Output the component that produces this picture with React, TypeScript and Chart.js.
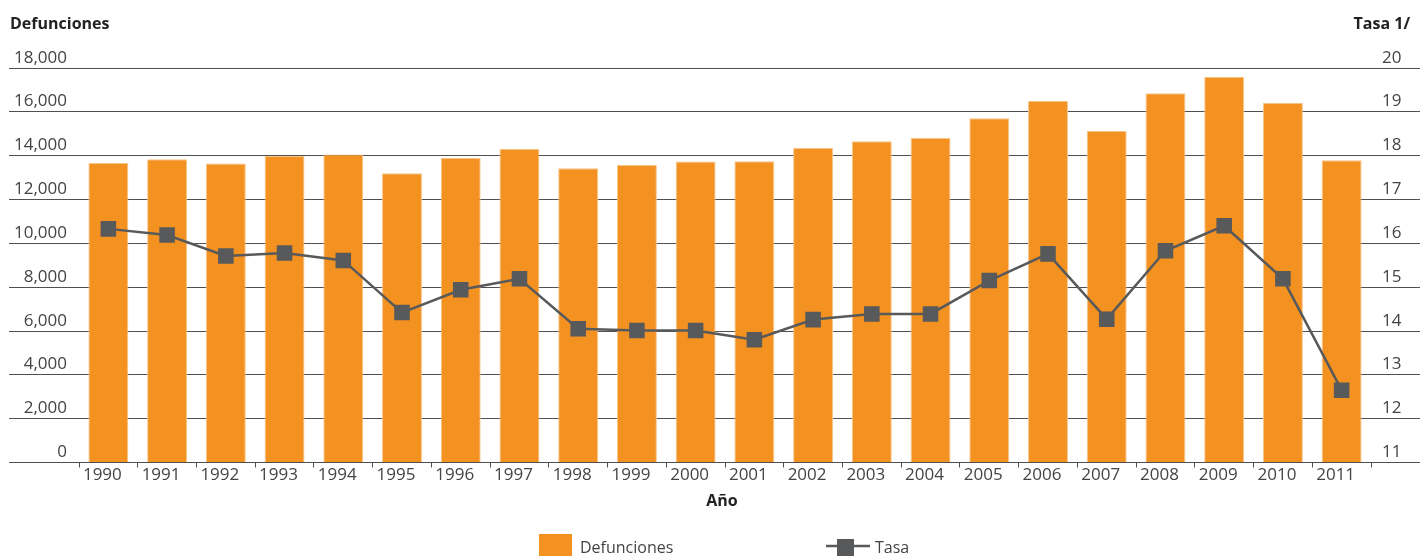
import React, { useEffect, useRef } from "react";
import { Chart, registerables } from "chart.js";

Chart.register(...registerables);

const years = ["1990", "1991", "1992", "1993", "1994", "1995", "1996", "1997", "1998", "1999", "2000", "2001", "2002", "2003", "2004", "2005", "2006", "2007", "2008", "2009", "2010", "2011"];
const defunciones = [13670, 13840, 13640, 13980, 14050, 13200, 13890, 14320, 13430, 13570, 13730, 13750, 14350, 14660, 14810, 15710, 16500, 15120, 16850, 17600, 16410, 13790];
const tasa = [16.33, 16.19, 15.71, 15.78, 15.61, 14.42, 14.94, 15.19, 14.05, 14.01, 14.01, 13.8, 14.26, 14.39, 14.39, 15.15, 15.76, 14.27, 15.83, 16.4, 15.19, 12.65];
const seriesNames = ["Defunciones", "Tasa"];
const leftAxisTitle = "Defunciones";
const rightAxisTitle = "Tasa 1/";
const xAxisTitle = "Año";
const leftAxisRange = { min: 0, max: 18000, step: 2000 };
const rightAxisRange = { min: 11, max: 20, step: 1 };

const FONT = "'Open Sans', 'Noto Sans', sans-serif";
const TEXT = "#444444";
const TITLE = "#222222";
const GRID = "#505050";
const ORANGE = "#F39220";
const ORANGE_EDGE = "#F8C48A";
const LINE = "#58595B";

const extraTextPlugin = {
  id: "extraText",
  afterDraw(chart: any) {
    const ctx = chart.ctx;
    const ca = chart.chartArea;
    const cx = (ca.left + ca.right) / 2 - 3;
    ctx.save();
    ctx.fillStyle = TITLE;
    ctx.font = `bold 16px ${FONT}`;
    ctx.textBaseline = "alphabetic";
    ctx.textAlign = "left";
    ctx.fillText(leftAxisTitle, 10, 29);
    ctx.textAlign = "right";
    ctx.fillText(rightAxisTitle, 1410, 29);
    ctx.textAlign = "center";
    ctx.fillText(xAxisTitle, cx, 506);

    // legend
    ctx.fillStyle = ORANGE;
    ctx.fillRect(cx - 183, 534, 33, 24);
    ctx.fillStyle = TEXT;
    ctx.font = `16px ${FONT}`;
    ctx.textAlign = "left";
    ctx.fillText(seriesNames[0], cx - 142, 553);

    ctx.strokeStyle = LINE;
    ctx.lineWidth = 2.5;
    ctx.beginPath();
    ctx.moveTo(cx + 104, 546);
    ctx.lineTo(cx + 148, 546);
    ctx.stroke();
    ctx.fillStyle = LINE;
    ctx.fillRect(cx + 115, 539, 17, 17);
    ctx.fillStyle = TEXT;
    ctx.fillText(seriesNames[1], cx + 153, 553);
    ctx.restore();
  },
};

export default function App() {
  const canvasRef = useRef<HTMLCanvasElement | null>(null);

  useEffect(() => {
    const canvas = canvasRef.current;
    if (!canvas) return;
    const chart = new Chart(canvas, {
      type: "bar",
      data: {
        labels: years,
        datasets: [
          {
            type: "line",
            label: seriesNames[1],
            data: tasa,
            yAxisID: "y1",
            borderColor: LINE,
            backgroundColor: LINE,
            borderWidth: 2.5,
            pointStyle: "rect",
            pointRadius: 11,
            pointHoverRadius: 11,
            pointBorderWidth: 0,
            pointBackgroundColor: LINE,
            tension: 0,
            order: 0,
          } as any,
          {
            type: "bar",
            label: seriesNames[0],
            data: defunciones,
            yAxisID: "y",
            backgroundColor: ORANGE,
            borderColor: ORANGE_EDGE,
            borderWidth: 1,
            barPercentage: 0.85,
            categoryPercentage: 0.8,
            order: 1,
          } as any,
        ],
      },
      options: {
        responsive: false,
        animation: false,
        layout: { padding: { left: 9, right: 1, top: 68, bottom: 53.5 } },
        plugins: {
          legend: { display: false },
          tooltip: { enabled: false },
          title: { display: false },
        },
        scales: {
          x: {
            type: "category",
            offset: true,
            grid: {
              display: true,
              offset: true,
              drawOnChartArea: false,
              drawTicks: true,
              tickLength: 5,
              color: GRID,
              tickColor: GRID,
            },
            border: { display: false },
            ticks: {
              color: TEXT,
              font: { family: FONT, size: 17 },
              padding: -3,
              labelOffset: -6,
              maxRotation: 0,
              minRotation: 0,
              autoSkip: false,
            },
            afterFit: (s: any) => {
              s.height = 40;
            },
          },
          y: {
            position: "left",
            min: leftAxisRange.min,
            max: leftAxisRange.max,
            grid: {
              color: GRID,
              lineWidth: 1,
              drawTicks: true,
              tickLength: 70,
              tickColor: GRID,
            },
            border: { display: false },
            ticks: {
              stepSize: leftAxisRange.step,
              autoSkip: false,
              color: TEXT,
              font: { family: FONT, size: 17 },
              padding: -58,
              callback: (v: any) => [Number(v).toLocaleString("en-US"), ""],
            },
            afterFit: (s: any) => {
              s.width = 70;
            },
          },
          y1: {
            position: "right",
            min: rightAxisRange.min,
            max: rightAxisRange.max,
            grid: {
              drawOnChartArea: false,
              color: GRID,
              lineWidth: 1,
              drawTicks: true,
              tickLength: 49,
              tickColor: GRID,
            },
            border: { display: false },
            ticks: {
              stepSize: rightAxisRange.step,
              autoSkip: false,
              color: TEXT,
              font: { family: FONT, size: 17 },
              padding: -38,
              callback: (v: any) => [String(v), ""],
            },
            afterFit: (s: any) => {
              s.width = 49;
            },
          },
        },
      } as any,
      plugins: [extraTextPlugin],
    });
    return () => chart.destroy();
  }, []);

  return (
    <div style={{ position: "fixed", left: 0, top: 0, width: 1421, height: 556, background: "#fff" }}>
      <canvas ref={canvasRef} width={1421} height={556} style={{ display: "block" }} />
    </div>
  );
}
